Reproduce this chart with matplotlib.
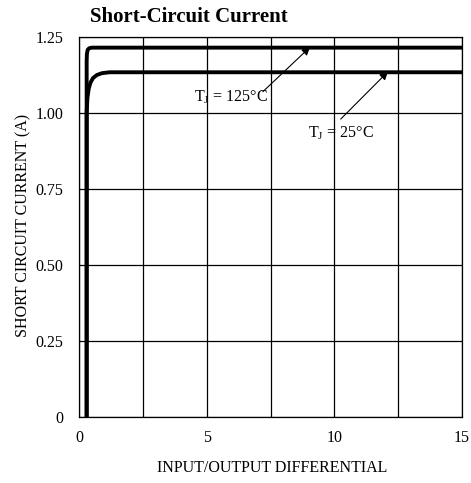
import numpy as np
import matplotlib.pyplot as plt

plt.rcParams['font.family'] = ['Liberation Serif', 'DejaVu Serif']

# curve data
x_125 = [0.3, 0.3, 0.31, 0.34, 0.4, 0.5, 15]
y_125 = [0.0, 1.17, 1.195, 1.208, 1.213, 1.215, 1.215]
x_25 = [0.3, 0.3, 0.33, 0.38, 0.45, 0.55, 0.7, 0.9, 1.2, 15]
y_25 = [0.0, 1.0, 1.05, 1.08, 1.1, 1.115, 1.125, 1.131, 1.134, 1.134]

x_ticks = [0, 5, 10, 15]
y_ticks = [0, 0.25, 0.5, 0.75, 1.0, 1.25]
y_tick_labels = ['0', '0.25', '0.50', '0.75', '1.00', '1.25']

fig = plt.figure(figsize=(4.71, 4.83), dpi=100)
ax = fig.add_axes([79/471, 1 - 417/483, 383/471, 380/483])

ax.plot(x_125, y_125, color='black', lw=2.8, solid_joinstyle='round')
ax.plot(x_25, y_25, color='black', lw=2.8, solid_joinstyle='round')

ax.set_xlim(0, 15)
ax.set_ylim(0, 1.25)
ax.set_xticks(x_ticks)
ax.set_xticks([2.5, 7.5, 12.5], minor=True)
ax.set_yticks(y_ticks)
ax.set_yticklabels(y_tick_labels)
ax.grid(True, which='both', color='black', lw=0.9)
ax.tick_params(which='both', length=0, labelsize=11.5)
ax.tick_params(axis='y', pad=11.5)
ax.tick_params(axis='x', pad=9)
for s in ax.spines.values():
    s.set_linewidth(0.9)

arrow = dict(arrowstyle='-|>', color='black', lw=0.8, mutation_scale=12,
             shrinkA=0, shrinkB=0)
ax.text(4.5, 1.052, 'T$_\\mathregular{J}$ = 125°C', fontsize=11.5, va='center')
ax.annotate('', xy=(9.05, 1.217), xytext=(7.2, 1.07), arrowprops=arrow)
ax.text(8.95, 0.935, 'T$_\\mathregular{J}$ = 25°C', fontsize=11.5, va='center')
ax.annotate('', xy=(12.1, 1.136), xytext=(10.25, 0.98), arrowprops=arrow)

fig.text(272/471, 1 - 468/483, 'INPUT/OUTPUT DIFFERENTIAL', fontsize=11.5,
         ha='center', va='center')
fig.text(23/471, 1 - 225/483, 'SHORT CIRCUIT CURRENT (A)', fontsize=11.5,
         ha='center', va='center', rotation=90)
fig.text(90/471, 1 - 17/483, 'Short-Circuit Current', fontsize=15,
         fontweight='bold', va='center', ha='left')

fig.savefig('out.png', dpi=100)
